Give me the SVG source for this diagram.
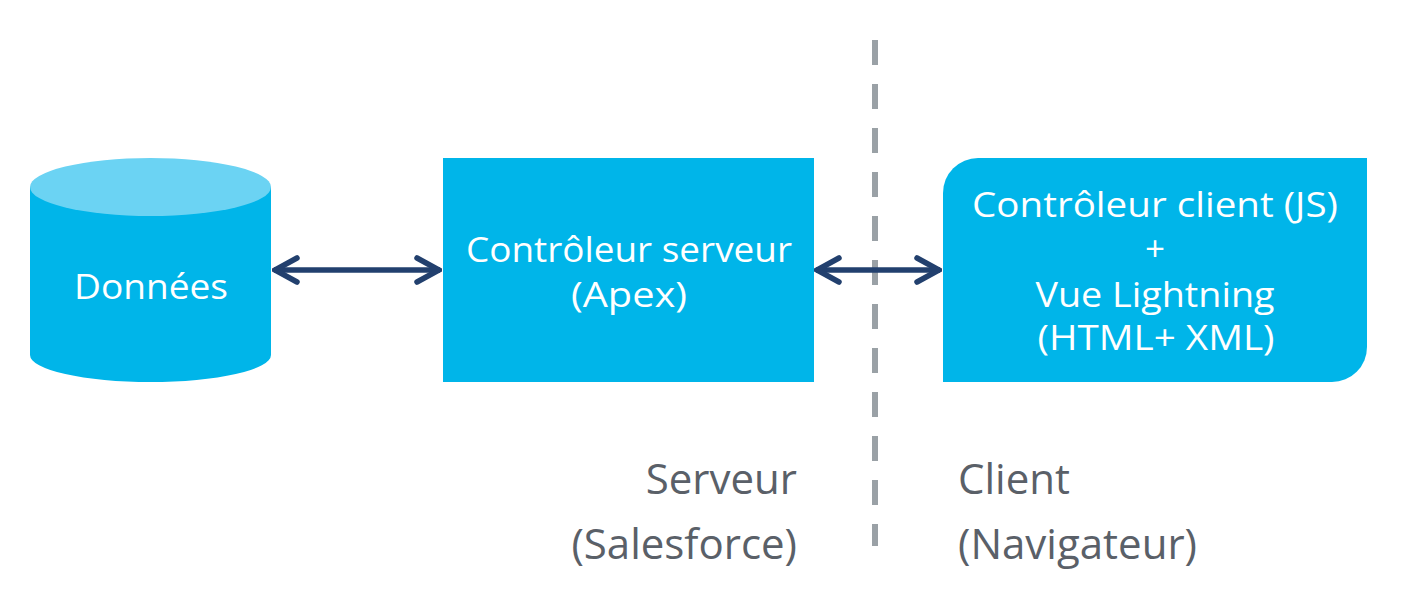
<svg xmlns="http://www.w3.org/2000/svg" width="1403" height="595" viewBox="0 0 1403 595">
<defs>
<style>
.node{fill:#00B5E9}
.t{font-family:"Open Sans","Liberation Sans",sans-serif;fill:#ffffff;text-anchor:middle;font-size:35px}
.lbl{font-family:"Open Sans","Liberation Sans",sans-serif;fill:#5A6068;font-size:42px}
.conn{stroke:#22406E;stroke-width:5.5;fill:none}
</style>
<marker id="ah" viewBox="0 0 30 30" refX="28" refY="15" markerWidth="30" markerHeight="30" markerUnits="userSpaceOnUse" orient="auto-start-reverse">
<path d="M5,3 L27,15 L5,27" fill="none" stroke="#22406E" stroke-width="5.5" stroke-linecap="round" stroke-linejoin="miter"/>
</marker>
</defs>
<rect width="1403" height="595" fill="#ffffff"/>
<g id="divider">
<line x1="875" y1="40" x2="875" y2="546" stroke="#9AA1A6" stroke-width="6" stroke-dasharray="25 19"/>
</g>
<g id="donnees">
<path class="node" d="M30,187 L30,355 A120.5,27 0 0 0 271,355 L271,187 Z"/>
<ellipse cx="150.5" cy="187" rx="120.5" ry="29" fill="#6BD3F3"/>
<text class="t" x="151" y="299" textLength="154" lengthAdjust="spacingAndGlyphs">Données</text>
</g>
<g id="serveur">
<rect class="node" x="443" y="158" width="371" height="224"/>
<text class="t" x="629" y="262" textLength="326" lengthAdjust="spacingAndGlyphs">Contrôleur serveur</text>
<text class="t" x="629" y="307" textLength="116" lengthAdjust="spacingAndGlyphs">(Apex)</text>
</g>
<g id="client">
<path class="node" d="M978,158 L1367,158 L1367,347 A35,35 0 0 1 1332,382 L943,382 L943,193 A35,35 0 0 1 978,158 Z"/>
<text class="t" x="1155" y="217" textLength="366" lengthAdjust="spacingAndGlyphs">Contrôleur client (JS)</text>
<text class="t" x="1155" y="261">+</text>
<text class="t" x="1155" y="307" textLength="239" lengthAdjust="spacingAndGlyphs">Vue Lightning</text>
<text class="t" x="1156" y="350" textLength="237" lengthAdjust="spacingAndGlyphs">(HTML+ XML)</text>
</g>
<g id="connectors">
<line class="conn" x1="274" y1="270" x2="440" y2="270" marker-start="url(#ah)" marker-end="url(#ah)"/>
<line class="conn" x1="816" y1="270" x2="940" y2="270" marker-start="url(#ah)" marker-end="url(#ah)"/>
</g>
<g id="labels">
<text class="lbl" x="797" y="494" text-anchor="end">Serveur</text>
<text class="lbl" x="797" y="559" text-anchor="end">(Salesforce)</text>
<text class="lbl" x="958" y="494">Client</text>
<text class="lbl" x="958" y="559">(Navigateur)</text>
</g>
</svg>
